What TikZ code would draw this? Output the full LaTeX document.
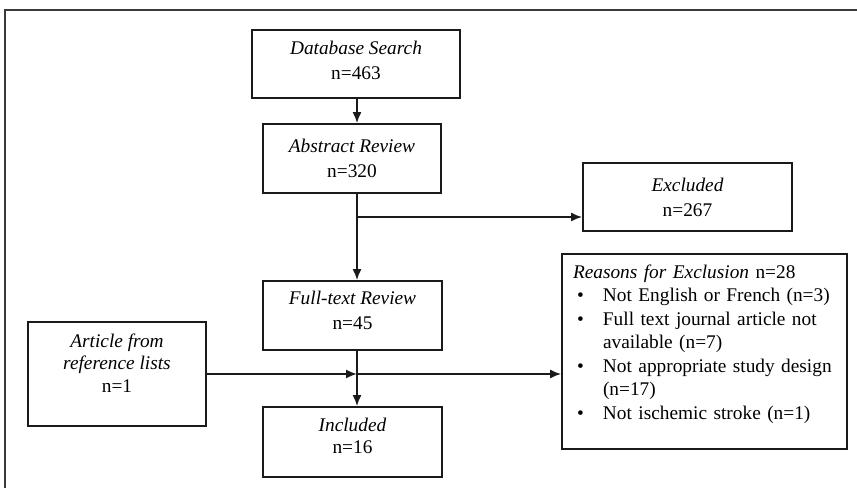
\documentclass[tikz,border=0pt]{standalone}
\usepackage{fontspec}
\setmainfont{Liberation Serif}
\usepackage{tikz}
\usetikzlibrary{arrows.meta,positioning,calc}
\definecolor{prismaInk}{HTML}{1A1A1A}
\definecolor{prismaFrame}{HTML}{3A3A3A}
\newcommand{\rbul}{\makebox[0.6cm][l]{\hspace{0.08cm}\textbullet}}
\newcommand{\rind}{\hspace*{0.6cm}}
\newcommand{\lift}[1]{\rule[-#1]{0pt}{0pt}}
\tikzset{
  stage/.style={draw=prismaInk,line width=1pt,align=center,inner sep=3pt,
    font=\fontsize{11}{14.2}\selectfont},
  reason/.style={draw=prismaInk,line width=1pt,align=left,inner xsep=.22cm,
    text width=5.26cm,minimum height=3.9cm,font=\fontsize{11}{13.4}\selectfont},
  flow/.style={-{Latex[length=.22cm,width=.18cm]},line width=1pt,prismaInk}
}
\begin{document}
\begin{tikzpicture}[x=1cm,y=1cm]
  \useasboundingbox (0,0) rectangle (17.14,9.76);
  \draw[prismaFrame,line width=1.2pt] (0.1,-0.5) rectangle (17.6,9.56);
  % main column
  \node[stage,minimum width=4.16cm,minimum height=1.36cm] (db) at (7.12,8.48)
       {\textit{Database Search}\\n=463\lift{0.16cm}};
  \node[stage,minimum width=3.56cm,minimum height=1.38cm] (abs) at (7.04,6.59)
       {\textit{Abstract Review}\\n=320};
  \node[stage,minimum width=3.58cm,minimum height=1.38cm] (full) at (7.05,3.45)
       {\textit{Full-text Review}\\n=45\lift{0.2cm}};
  \node[stage,minimum width=3.58cm,minimum height=1.40cm,
        font=\fontsize{11}{12.6}\selectfont] (inc) at (7.05,0.92)
       {\textit{Included}\\n=16\lift{0.24cm}};
  % side boxes
  \node[stage,minimum width=4.18cm,minimum height=1.36cm] (exc) at (13.75,5.82)
       {\textit{Excluded}\\n=267};
  \node[stage,minimum width=3.56cm,minimum height=2.08cm,
        font=\fontsize{11}{12.9}\selectfont] (art) at (2.34,2.28)
       {\textit{Article from}\\\textit{reference lists}\\n=1\lift{0.44cm}};
  \node[reason] (rsn) at (14.09,2.73)
       {\textit{Reasons for Exclusion} n=28\\
        \rbul Not English or French (n=3)\\
        \rbul Full text journal article not\\
        \rind available (n=7)\\
        \rbul Not appropriate study design\\
        \rind (n=17)\\
        \rbul Not ischemic stroke (n=1)\lift{0.38cm}};
  % connectors
  \coordinate (spine) at (7.14,0);
  \coordinate (split) at (7.14,5.42);
  \coordinate (join) at (art.east -| spine);
  \draw[flow] (db.south -| spine) -- (abs.north -| spine);
  \draw[flow] (abs.south -| spine) -- (full.north -| spine);
  \draw[flow] (split) -- (split -| exc.west);
  \draw[flow] (full.south -| spine) -- (inc.north -| spine);
  \draw[flow] (art.east) -- (join);
  \draw[flow] (join) -- (join -| rsn.west);
\end{tikzpicture}
\end{document}
